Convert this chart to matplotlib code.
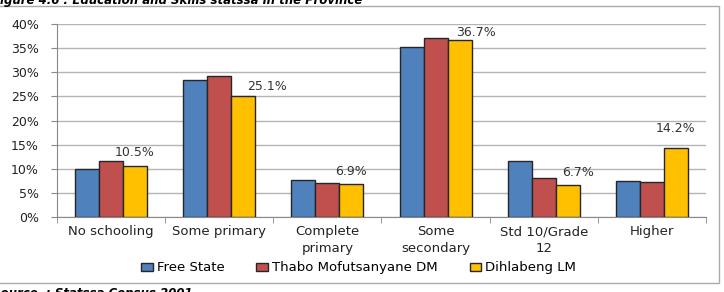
import matplotlib

matplotlib.use("Agg")
import matplotlib.pyplot as plt
import numpy as np
from matplotlib.ticker import FuncFormatter, MultipleLocator

categories = ["No schooling", "Some primary", "Complete\nprimary",
              "Some\nsecondary", "Std 10/Grade\n12", "Higher"]
series_names = ["Free State", "Thabo Mofutsanyane DM", "Dihlabeng LM"]
free_state = [10.0, 28.3, 7.6, 35.3, 11.7, 7.4]
thabo = [11.6, 29.3, 7.0, 37.2, 8.0, 7.2]
dihlabeng = [10.5, 25.1, 6.9, 36.7, 6.7, 14.2]

COLORS = ["#4F81BD", "#C0504D", "#FFC000"]
# label nudges (x px, y px) to mimic the hand-placed Excel labels
LABEL_NUDGE = [(0, 14), (24, 9), (0, 12), (16, 7), (10, 12), (0, 20)]

fig = plt.figure(figsize=(7.24, 2.92), dpi=100)
ax = fig.add_axes([57 / 724, 1 - 217 / 292, 649 / 724, 193 / 292])

x = np.arange(len(categories))
width = 0.222
for i, (vals, name) in enumerate(zip([free_state, thabo, dihlabeng], series_names)):
    ax.bar(x + (i - 1) * width, vals, width, color=COLORS[i], edgecolor="#262626",
           linewidth=1.0, label=name, zorder=3)

for xi, v, (dx, dy) in zip(x, dihlabeng, LABEL_NUDGE):
    ax.annotate(f"{v:.1f}%", (xi + width, v), xytext=(dx * 0.72, dy * 0.72),
                textcoords="offset points", ha="center", va="center",
                fontsize=9, color="#333333")

ax.set_xlim(-0.5, len(categories) - 0.5)
ax.set_ylim(0, 40)
ax.yaxis.set_major_locator(MultipleLocator(5))
ax.yaxis.set_major_formatter(FuncFormatter(lambda v, _: f"{v:.0f}%"))
ax.grid(axis="y", color="#b4b4b4", linewidth=1.0, zorder=0)
ax.set_axisbelow(True)

ax.set_xticks(x)
ax.set_xticklabels(categories, fontsize=9.5, color="#222222", linespacing=1.35)
ax.set_xticks(np.arange(len(categories) + 1) - 0.5, minor=True)
ax.tick_params(axis="x", which="major", length=0, pad=6)
ax.tick_params(axis="x", which="minor", length=4, color="#888888", direction="out")
ax.tick_params(axis="y", labelsize=9, length=4, color="#888888", labelcolor="#222222",
               pad=9)

for side in ("top", "right"):
    ax.spines[side].set_visible(False)
for side in ("left", "bottom"):
    ax.spines[side].set_color("#888888")

ax.legend(loc="center", bbox_to_anchor=(0.465, -0.264), ncol=3, frameon=False,
          fontsize=9.5, handlelength=0.9, handleheight=0.55, columnspacing=2.4,
          handletextpad=0.3)

# outer chart frame
fig.patches.append(plt.Rectangle((-0.01, 1 - 283 / 292), 719 / 724 + 0.01, (283 - 6) / 292,
                                 transform=fig.transFigure, fill=False,
                                 edgecolor="#aaaaaa", linewidth=1.0))

fig.text(-8 / 724, 1 - 4 / 292, "Figure 4.6 : Education and Skills statssa in the Province",
         fontsize=8.5, fontweight="bold", fontstyle="italic", va="baseline", ha="left")
fig.text(-8 / 724, 1 - 287 / 292, "Source  : Statssa Census 2001",
         fontsize=8.5, fontweight="bold", fontstyle="italic", va="top", ha="left")

fig.savefig("out.png", dpi=100)
